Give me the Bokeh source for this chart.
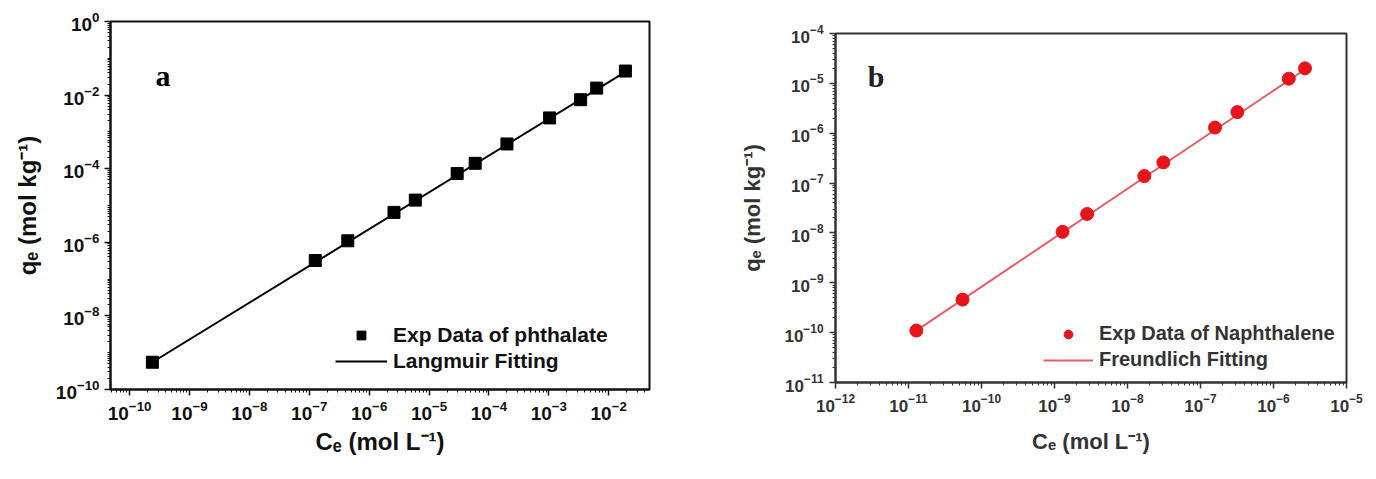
from bokeh.plotting import figure
from bokeh.models import (FixedTicker, LogTickFormatter, Legend, LegendItem, Label, Range1d)
from bokeh.layouts import row, column
from bokeh.embed import file_html
from bokeh.resources import INLINE

# ---------------- data: panel a (phthalate, Langmuir) ----------------
ce_a = [2.4e-10, 1.26e-7, 4.4e-7, 2.6e-6, 5.9e-6, 2.95e-5, 5.9e-5, 2.0e-4,
        1.03e-3, 3.4e-3, 6.3e-3, 1.9e-2]
qe_a = [5.5e-10, 3.2e-7, 1.1e-6, 6.5e-6, 1.4e-5, 7.4e-5, 1.4e-4, 4.7e-4,
        2.4e-3, 7.5e-3, 1.55e-2, 4.5e-2]
fit_ce_a = [2.4e-10, 1.9e-2]
fit_qe_a = [5.5e-10, 4.3e-2]

# ---------------- data: panel b (naphthalene, Freundlich) ----------------
ce_b = [1.28e-11, 5.5e-11, 1.29e-9, 2.8e-9, 1.7e-8, 3.1e-8, 1.58e-7, 3.2e-7,
        1.62e-6, 2.7e-6]
qe_b = [1.1e-10, 4.6e-10, 1.05e-8, 2.4e-8, 1.38e-7, 2.6e-7, 1.3e-6, 2.65e-6,
        1.24e-5, 2.0e-5]
fit_ce_b = [1.28e-11, 2.7e-6]
fit_qe_b = [1.1e-10, 1.9e-5]

x_major_a = [1e-10, 1e-9, 1e-8, 1e-7, 1e-6, 1e-5, 1e-4, 1e-3, 1e-2]
y_major_a = [1e-10, 1e-8, 1e-6, 1e-4, 1e-2, 1e0]
x_major_b = [1e-12, 1e-11, 1e-10, 1e-9, 1e-8, 1e-7, 1e-6, 1e-5]
y_major_b = [1e-11, 1e-10, 1e-9, 1e-8, 1e-7, 1e-6, 1e-5, 1e-4]

legend_a = ["Exp Data of phthalate", "Langmuir Fitting"]
legend_b = ["Exp Data of Naphthalene", "Freundlich Fitting"]


def minors(lo_exp, hi_exp):
    out = []
    for e in range(lo_exp, hi_exp + 1):
        for k in range(1, 10):
            out.append(k * 10.0 ** e)
    return out


def style(p, color, tick_size, label_size, width):
    for ax in (p.xaxis[0], p.yaxis[0]):
        ax.axis_line_width = width
        ax.axis_line_color = color
        ax.major_tick_line_color = color
        ax.minor_tick_line_color = color
        ax.major_tick_line_width = 1.5
        ax.minor_tick_line_width = 1
        ax.major_tick_in = 0
        ax.major_tick_out = 6
        ax.minor_tick_in = 0
        ax.minor_tick_out = 3
        ax.major_label_text_font = "Liberation Sans"
        ax.major_label_text_font_style = "bold"
        ax.major_label_text_font_size = tick_size
        ax.major_label_text_color = color
        ax.axis_label_text_font = "Liberation Sans"
        ax.axis_label_text_font_style = "bold"
        ax.axis_label_text_font_size = label_size
        ax.axis_label_text_color = color
        ax.formatter = LogTickFormatter(min_exponent=0)
    p.outline_line_color = color
    p.outline_line_width = width
    p.outline_line_alpha = 1
    p.xgrid.visible = False
    p.ygrid.visible = False
    p.background_fill_color = "white"
    p.border_fill_color = "white"


# ---------------- panel a ----------------
pa = figure(width=690, height=479, x_axis_type="log", y_axis_type="log",
            x_range=Range1d(4.8e-11, 4.8e-2), y_range=Range1d(1e-10, 1e0),
            output_backend="svg", toolbar_location=None, title=None,
            min_border_left=110, min_border_right=41, min_border_top=21,
            min_border_bottom=90)
style(pa, "#111111", "19px", "24px", 2)
pa.xaxis[0].ticker = FixedTicker(ticks=x_major_a, minor_ticks=minors(-11, -2))
pa.yaxis[0].ticker = FixedTicker(ticks=y_major_a, minor_ticks=minors(-10, 0))
pa.xaxis[0].axis_label = "Cₑ (mol L⁻¹)"
pa.yaxis[0].axis_label = "qₑ (mol kg⁻¹)"
pa.xaxis[0].major_label_standoff = 5
pa.yaxis[0].major_label_standoff = 5
pa.xaxis[0].axis_label_standoff = 5
pa.yaxis[0].axis_label_standoff = 12

la = pa.line(fit_ce_a, fit_qe_a, line_color="black", line_width=2)
sa = pa.scatter(ce_a, qe_a, marker="square", size=12, fill_color="black",
                line_color="black")
pa.add_layout(Label(x=3.6e-10, y=3.4e-2, text="a", text_font="Liberation Serif",
                    text_font_style="bold", text_font_size="30px",
                    text_align="center", text_baseline="middle", text_color="black"))
leg_a = Legend(items=[LegendItem(label=legend_a[0], renderers=[sa]),
                      LegendItem(label=legend_a[1], renderers=[la])],
               location=(225, 16), border_line_alpha=0, background_fill_alpha=0,
               padding=0, margin=0, spacing=2, glyph_width=52, glyph_height=22,
               label_height=22, label_standoff=6, label_text_font="Liberation Sans",
               label_text_font_style="bold", label_text_font_size="21px",
               label_text_color="#111111")
pa.add_layout(leg_a)

# ---------------- panel b ----------------
pb = figure(width=686, height=479, x_axis_type="log", y_axis_type="log",
            x_range=Range1d(1e-12, 1e-5), y_range=Range1d(1e-11, 1e-4),
            output_backend="svg", toolbar_location=None, title=None,
            min_border_left=145, min_border_right=30, min_border_top=33,
            min_border_bottom=97)
style(pb, "#333333", "17px", "22px", 2)
pb.xaxis[0].ticker = FixedTicker(ticks=x_major_b, minor_ticks=minors(-12, -5))
pb.yaxis[0].ticker = FixedTicker(ticks=y_major_b, minor_ticks=minors(-11, -4))
pb.xaxis[0].axis_label = "Cₑ (mol L⁻¹)"
pb.yaxis[0].axis_label = "qₑ (mol kg⁻¹)"
pb.xaxis[0].major_label_standoff = 5
pb.yaxis[0].major_label_standoff = 6
pb.xaxis[0].axis_label_standoff = 14
pb.yaxis[0].axis_label_standoff = 16

lb = pb.line(fit_ce_b, fit_qe_b, line_color="#e0606a", line_width=2)
sb = pb.scatter(ce_b, qe_b, marker="circle", size=13, fill_color="#e8141c",
                line_color="#e8141c")
pb.add_layout(Label(x=3.6e-12, y=1.38e-5, text="b", text_font="Liberation Serif",
                    text_font_style="bold", text_font_size="30px",
                    text_align="center", text_baseline="middle", text_color="#222222"))
leg_b = Legend(items=[LegendItem(label=legend_b[0], renderers=[sb]),
                      LegendItem(label=legend_b[1], renderers=[lb])],
               location=(208, 11), border_line_alpha=0, background_fill_alpha=0,
               padding=0, margin=0, spacing=3, glyph_width=50, glyph_height=22,
               label_height=22, label_standoff=6, label_text_font="Liberation Sans",
               label_text_font_style="bold", label_text_font_size="20px",
               label_text_color="#333333")
pb.add_layout(leg_b)

layout = row(column(pa), column(pb))
open("out.html", "w").write(file_html(layout, INLINE))
